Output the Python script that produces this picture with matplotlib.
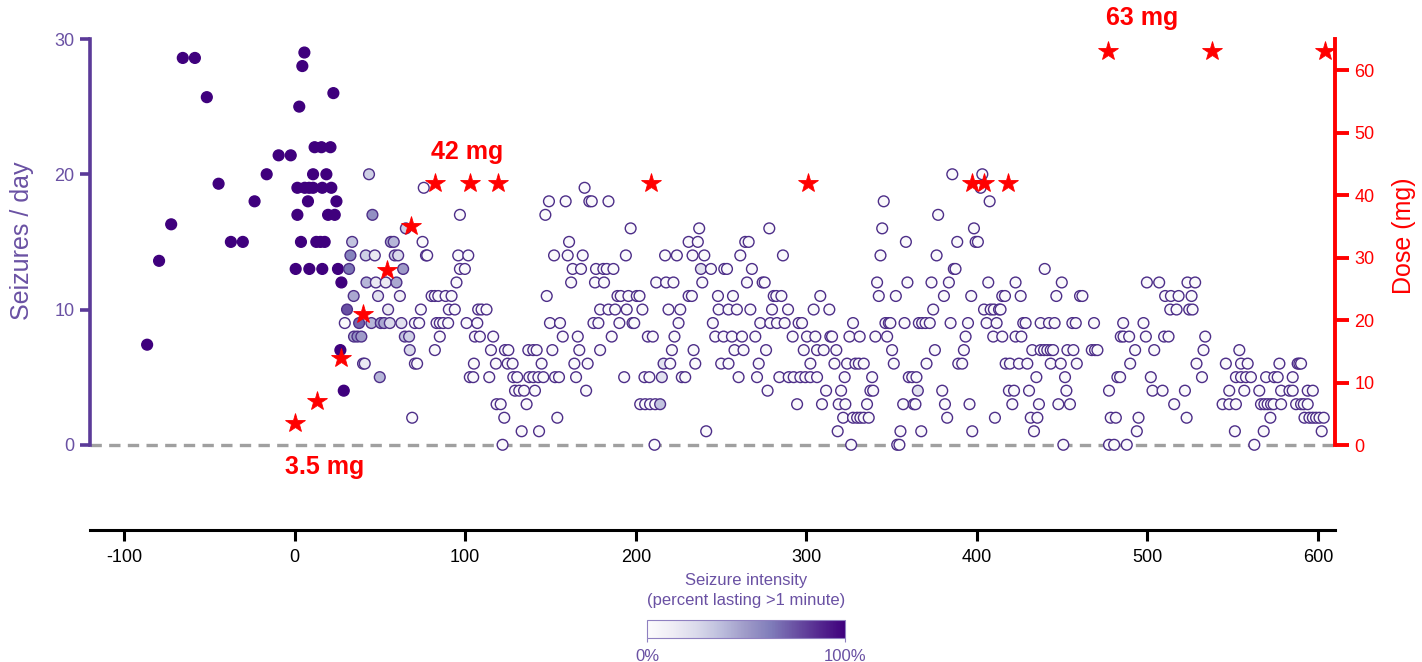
import matplotlib
matplotlib.use('Agg')
import matplotlib.pyplot as plt
import numpy as np
from matplotlib import colors
from matplotlib.cm import ScalarMappable

plt.rcParams['font.family'] = ['Liberation Sans', 'DejaVu Sans']
plt.rcParams['axes.unicode_minus'] = False

# ---------------- data ----------------
# baseline weekly averages (before treatment), full intensity
baseline_day = [-86.5, -79.5, -72.4, -65.6, -58.5, -51.5, -44.6, -37.4, -30.4, -23.5, -16.4, -9.4, -2.3]
baseline_rate = [7.4, 13.6, 16.3, 28.6, 28.6, 25.7, 19.3, 15.0, 15.0, 18.0, 20.0, 21.4, 21.4]

# early daily counts (day, seizures, intensity fraction)
early_points = [
    (0.6, 13, 1.0), (8.6, 13, 1.0), (1.6, 17, 1.0), (1.6, 19, 1.0), (5.9, 19, 1.0), (8.5, 19, 1.0),
    (10.8, 19, 1.0), (2.7, 25, 1.0), (3.7, 15, 1.0), (12.7, 15, 1.0), (15.1, 15, 1.0), (4.5, 28, 1.0),
    (5.7, 29, 1.0), (7.8, 18, 1.0), (10.8, 20, 1.0), (11.7, 22, 1.0),
    (22.7, 26, 1.0), (15.7, 22, 1.0), (21.0, 22, 1.0), (18.6, 20, 1.0), (16.2, 19, 1.0), (21.5, 19, 1.0),
    (24.5, 18, 1.0), (19.6, 17, 1.0), (23.5, 17, 1.0), (17.6, 15, 1.0), (16.2, 13, 1.0), (25.4, 13, 1.0),
    (27.4, 12, 1.0), (26.8, 7, 1.0), (28.8, 4, 1.0),
    (43.6, 20, 0.3), (75.7, 19, 0.02), (45.6, 17, 0.55), (65.2, 16, 0.3), (33.7, 15, 0.35),
    (56.4, 15, 0.45), (58.1, 15, 0.4), (75.0, 15, 0.02),
    (32.7, 14, 0.6), (41.7, 14, 0.3), (47.0, 14, 0.15), (58.7, 14, 0.3), (60.7, 14, 0.25),
    (77.0, 14, 0.02), (77.7, 14, 0.02),
    (31.9, 13, 0.65), (63.6, 13, 0.5),
    (42.1, 12, 0.4), (47.6, 12, 0.15), (53.4, 12, 0.15), (59.7, 12, 0.45),
    (34.6, 11, 0.45), (48.9, 11, 0.2), (61.7, 11, 0.1), (80.3, 11, 0.02), (82.2, 11, 0.02), (84.2, 11, 0.02),
    (30.7, 10, 0.75), (54.8, 10, 0.15), (74.0, 10, 0.02),
    (29.4, 9, 0.02), (37.8, 9, 0.7), (45.0, 9, 0.4), (50.5, 9, 0.5), (52.5, 9, 0.45), (55.8, 9, 0.25),
    (62.6, 9, 0.2), (70.5, 9, 0.02), (73.0, 9, 0.02), (83.2, 9, 0.02), (85.1, 9, 0.02),
    (34.8, 8, 0.45), (36.8, 8, 0.55), (39.1, 8, 0.5), (64.6, 8, 0.35), (67.1, 8, 0.3), (85.1, 8, 0.02),
    (67.5, 7, 0.25), (82.2, 7, 0.02),
    (40.1, 6, 0.25), (41.1, 6, 0.15), (70.5, 6, 0.02), (71.8, 6, 0.02),
    (49.9, 5, 0.4), (68.9, 2, 0.02),
    (238.2, 13, 0.2), (216.3, 6, 0.2), (215.3, 5, 0.2), (214.3, 3, 0.35), (365.4, 4, 0.2),
]

# later daily counts (day, seizures), low intensity
late_points = [
    (170, 19),
    (149.1, 18), (158.9, 18), (172.8, 18), (174.2, 18), (184, 18),
    (96.9, 17), (147, 17),
    (197, 16), (237.2, 16), (278.3, 16),
    (160.9, 15), (231, 15), (236.4, 15), (264.2, 15), (266.2, 15),
    (95.9, 14), (101.8, 14), (152.1, 14), (160.1, 14), (168.9, 14), (194.2, 14), (217.2, 14), (224.1, 14),
    (233.3, 14), (240.2, 14), (261.3, 14), (286.3, 14),
    (96.9, 13), (99.8, 13), (163, 13), (167.9, 13), (176.7, 13), (181, 13), (183, 13), (186.9, 13),
    (244.1, 13), (251.9, 13), (253.5, 13), (268.1, 13),
    (94.9, 12), (162.1, 12), (176.1, 12), (181.4, 12), (212, 12), (217.8, 12), (222.1, 12), (239, 12),
    (265.2, 12), (274.4, 12), (275.6, 12),
    (88.5, 11), (92, 11), (147.8, 11), (189.3, 11), (191.2, 11), (195.7, 11), (200.6, 11), (202.2, 11),
    (231, 11), (232.9, 11), (248.2, 11), (257, 11), (280.9, 11), (282.4, 11), (285.4, 11),
    (90.4, 10), (93.9, 10), (107.6, 10), (109.6, 10), (112.5, 10), (179.1, 10), (184, 10), (187.9, 10),
    (194.7, 10), (203.9, 10), (219.2, 10), (226.1, 10), (248.6, 10), (254.4, 10), (259.3, 10), (267.2, 10),
    (279.9, 10), (289.3, 10),
    (87.1, 9), (90, 9), (100.8, 9), (107.1, 9), (149.7, 9), (155.6, 9), (175.2, 9), (178.1, 9), (190.4, 9),
    (198.1, 9), (199.1, 9), (225.1, 9), (245.2, 9), (273, 9), (278.9, 9), (282.8, 9), (287.3, 9), (295.5, 9),
    (105.7, 8), (108.6, 8), (116.4, 8), (157.2, 8), (166, 8), (185.9, 8), (207.1, 8), (210, 8), (222.7, 8),
    (246.6, 8), (251.5, 8), (256.4, 8), (262.3, 8), (270.1, 8), (292, 8),
    (115.1, 7), (123.3, 7), (125.3, 7), (137, 7), (139.9, 7), (141.9, 7), (151.1, 7), (166.9, 7), (179.1, 7),
    (221.2, 7), (233.9, 7), (257.9, 7), (263.2, 7), (276.4, 7),
    (105.1, 6), (118, 6), (124.9, 6), (127.8, 6), (144.8, 6), (164, 6), (171.8, 6), (220.2, 6), (234.9, 6),
    (250.1, 6), (254.4, 6), (272.1, 6),
    (102.7, 5), (104.7, 5), (114.1, 5), (128.2, 5), (130.5, 5), (137.6, 5), (139.9, 5), (142.9, 5), (145.8, 5),
    (152.7, 5), (155, 5), (165, 5), (193.2, 5), (205.1, 5), (208, 5), (227, 5), (229, 5), (260.3, 5),
    (271.1, 5), (284.2, 5), (289.7, 5), (292.6, 5),
    (129.2, 4), (131.7, 4), (134.5, 4), (140.9, 4), (170.9, 4), (277.3, 4),
    (118.4, 3), (120.8, 3), (136, 3), (202.6, 3), (205.5, 3), (208.4, 3), (211.4, 3), (294.6, 3),
    (122.9, 2), (154, 2),
    (133.1, 1), (143.3, 1), (241.3, 1),
    (121.9, 0), (211, 0),
    (385.6, 20), (403.2, 20),
    (402.2, 19),
    (345.4, 18), (407.5, 18),
    (377.3, 17),
    (344.5, 16), (398.3, 16),
    (358.4, 15), (388.5, 15), (399.3, 15), (400.6, 15),
    (343.5, 14), (376.4, 14),
    (386.5, 13), (387.5, 13), (439.8, 13),
    (341.5, 12), (359.3, 12), (373.4, 12), (383.6, 12), (406.7, 12), (422.7, 12), (449.8, 12), (499.7, 12),
    (506.9, 12), (523.5, 12), (528, 12),
    (308.2, 11), (342.5, 11), (352.5, 11), (380.7, 11), (396.7, 11), (414.9, 11), (416.5, 11), (425.7, 11),
    (446.6, 11), (460.5, 11), (461.9, 11), (510.4, 11), (513.8, 11), (518.3, 11), (525.9, 11),
    (304.3, 10), (313.5, 10), (374.4, 10), (404.2, 10), (408.1, 10), (410, 10), (413, 10), (413.9, 10),
    (513.4, 10), (517.1, 10), (524.5, 10), (526.5, 10),
    (297.5, 9), (327.4, 9), (346.4, 9), (348.4, 9), (349.3, 9), (357.6, 9), (366, 9), (367.9, 9), (369.9, 9),
    (372.4, 9), (384.6, 9), (394.8, 9), (405.7, 9), (411.6, 9), (427.2, 9), (428.6, 9), (437.4, 9), (442.3, 9),
    (445.6, 9), (456, 9), (458, 9), (468.7, 9), (485.8, 9), (497.7, 9),
    (300.4, 8), (305.3, 8), (314.1, 8), (315.1, 8), (325.3, 8), (331.3, 8), (340.5, 8), (347.4, 8), (393.4, 8),
    (409.6, 8), (414.9, 8), (422.7, 8), (426.1, 8), (484.4, 8), (486, 8), (489.3, 8), (499.1, 8), (509.8, 8),
    (512.4, 8), (533.9, 8),
    (298.5, 7), (306.3, 7), (310.2, 7), (317.6, 7), (350.3, 7), (375.4, 7), (392.4, 7), (432.5, 7), (437.4, 7),
    (439.4, 7), (441.3, 7), (443.3, 7), (444.7, 7), (453.1, 7), (456.6, 7), (467.4, 7), (469.3, 7), (470.7, 7),
    (492.8, 7), (504, 7), (532.9, 7),
    (302.4, 6), (316.5, 6), (323.9, 6), (328.8, 6), (330.8, 6), (333.7, 6), (351.3, 6), (370.5, 6), (389.1, 6),
    (391.4, 6), (416.9, 6), (419.4, 6), (424.7, 6), (429.6, 6), (443.3, 6), (449.2, 6), (458.6, 6), (489.9, 6),
    (528.8, 6), (546, 6),
    (296.5, 5), (299.4, 5), (302.4, 5), (306.3, 5), (322.5, 5), (338.6, 5), (360.1, 5), (362.1, 5), (364.6, 5),
    (434.9, 5), (451.7, 5), (482.4, 5), (484, 5), (502, 5), (532, 5),
    (311.6, 4), (320.4, 4), (337.6, 4), (339.2, 4), (379.7, 4), (418.8, 4), (421.8, 4), (430.6, 4), (452.5, 4),
    (477.5, 4), (503, 4), (508.9, 4), (522, 4), (548, 4),
    (309.2, 3), (319, 3), (322.9, 3), (335.6, 3), (356.8, 3), (363, 3), (364, 3), (381.3, 3), (395.7, 3),
    (420.8, 3), (436.4, 3), (447.8, 3), (454.6, 3), (515.7, 3), (544.1, 3), (548, 3),
    (321.6, 2), (327.4, 2), (329.8, 2), (331.7, 2), (333.7, 2), (336.6, 2), (382.6, 2), (410.6, 2), (431.6, 2),
    (435.5, 2), (478.5, 2), (481.5, 2), (494.8, 2), (523, 2),
    (318.4, 1), (355.2, 1), (367.4, 1), (397.3, 1), (433.5, 1), (493.8, 1),
    (326.3, 0), (353.3, 0), (354.6, 0), (450.7, 0), (477.5, 0), (480.5, 0), (487.9, 0),
    (553.9, 7),
    (554.9, 6), (558.8, 6), (577.4, 6), (588.1, 6), (589.1, 6), (590.1, 6),
    (551.9, 5), (554.9, 5), (557.8, 5), (560.7, 5), (569.6, 5), (574.4, 5), (576.4, 5), (585.2, 5),
    (556.8, 4), (565.6, 4), (578.4, 4), (583.3, 4), (585.2, 4), (594, 4), (597, 4),
    (551.9, 3), (566.6, 3), (568.6, 3), (570.5, 3), (572.5, 3), (574, 3), (578.4, 3), (587.2, 3), (590.1, 3),
    (591.7, 3), (594, 3),
    (572.1, 2), (592.1, 2), (595, 2), (597, 2), (598.9, 2), (600.9, 2), (603.4, 2),
    (551.3, 1), (568.2, 1), (602.2, 1),
    (562.7, 0),
]
late_intensity = 0.02

# dose steps (red stars)
dose_day = [0, 13, 27, 40, 54, 68, 82, 103, 119, 209, 301, 397, 404, 418, 477, 538, 604]
dose_mg = [3.5, 7, 14, 21, 28, 35, 42, 42, 42, 42, 42, 42, 42, 42, 63, 63, 63]
dose_labels = ['3.5 mg', '42 mg', '63 mg']
dose_label_pos = [(17.6, -3.5), (101, 46.9), (497, 68.3)]

x_ticks = [-100, 0, 100, 200, 300, 400, 500, 600]
y_ticks = [0, 10, 20, 30]
dose_ticks = [0, 10, 20, 30, 40, 50, 60]

# ---------------- plot ----------------
PURPLE = '#5b3a98'
PURPLE_TXT = '#6a51a3'
EDGE = '#4d2e88'
RED = '#ff0000'

fig = plt.figure(figsize=(14.22, 6.62), dpi=100)
ax = fig.add_axes([90 / 1422, 132 / 662, 1245 / 1422, 491 / 662])

all_x = baseline_day + [p[0] for p in early_points] + [p[0] for p in late_points]
all_y = baseline_rate + [p[1] for p in early_points] + [p[1] for p in late_points]
all_c = [1.0] * len(baseline_day) + [p[2] for p in early_points] + [late_intensity] * len(late_points)
order = np.argsort(all_x, kind='stable')
all_x = np.array(all_x)[order]
all_y = np.array(all_y)[order]
all_c = np.array(all_c)[order]

cmap = plt.get_cmap('Purples')
norm = colors.Normalize(0, 1)
face = cmap(norm(all_c))
edge = [EDGE if c < 0.9 else '#3f007d' for c in all_c]
ax.scatter(all_x, all_y, s=60, c=face, edgecolors=edge, linewidths=1.0, zorder=3, clip_on=False)

ax.axhline(0, color='#a0a0a0', lw=2.4, dashes=(3.4, 2.2), zorder=1)

ax.set_xlim(-120, 610)
ax.set_ylim(-6.3, 30)
ax.set_xticks(x_ticks)
ax.set_yticks(y_ticks)
for s in ['top', 'right']:
    ax.spines[s].set_visible(False)
ax.spines['left'].set_bounds(0, 30)
ax.spines['left'].set_color(PURPLE)
ax.spines['left'].set_linewidth(2.6)
ax.spines['bottom'].set_linewidth(2.2)
ax.tick_params(axis='y', colors=PURPLE, width=2.6, length=7, labelsize=13, pad=4)
ax.tick_params(axis='y', labelcolor=PURPLE_TXT)
ax.tick_params(axis='x', colors='black', width=2.2, length=8, labelsize=13, pad=6)
ax.set_ylabel('Seizures / day', fontsize=18, color=PURPLE_TXT)
ax.yaxis.set_label_coords(-0.045, 0.59)

ax2 = ax.twinx()
ax2.set_ylim(-13.6, 65)
ax2.set_yticks(dose_ticks)
for s in ['top', 'left', 'bottom']:
    ax2.spines[s].set_visible(False)
ax2.spines['right'].set_bounds(0, 65)
ax2.spines['right'].set_color(RED)
ax2.spines['right'].set_linewidth(2.8)
ax2.tick_params(axis='y', colors=RED, width=2.8, length=10, labelsize=13, pad=4)
ax2.set_ylabel('Dose (mg)', fontsize=18, color=RED, rotation=90)
ax2.yaxis.set_label_coords(1.046, 0.60)

ax2.plot(dose_day, dose_mg, ls='none', marker='*', ms=15, color=RED, mec=RED, mew=0.6,
         zorder=5, clip_on=False)
for lab, (x, y) in zip(dose_labels, dose_label_pos):
    ax2.text(x, y, lab, ha='center', va='center', color=RED, fontsize=18, fontweight='bold',
             clip_on=False)

# colorbar
cax = fig.add_axes([647 / 1422, (662 - 638) / 662, 198 / 1422, 18 / 662])
cb = fig.colorbar(ScalarMappable(norm=norm, cmap=cmap), cax=cax, orientation='horizontal', ticks=[0, 1])
cb.set_ticklabels(['0%', '100%'])
cb.outline.set_edgecolor('#8f80c0')
cb.outline.set_linewidth(0.8)
cax.tick_params(labelsize=12, colors='#8f80c0', length=3, width=0.8, pad=5)
cax.tick_params(labelcolor=PURPLE_TXT)
fig.text(746 / 1422, 1 - 580 / 662, 'Seizure intensity', ha='center', va='center', fontsize=12,
         color=PURPLE_TXT)
fig.text(746 / 1422, 1 - 600 / 662, '(percent lasting >1 minute)', ha='center', va='center',
         fontsize=12, color=PURPLE_TXT)

fig.savefig('out.png', dpi=100)
